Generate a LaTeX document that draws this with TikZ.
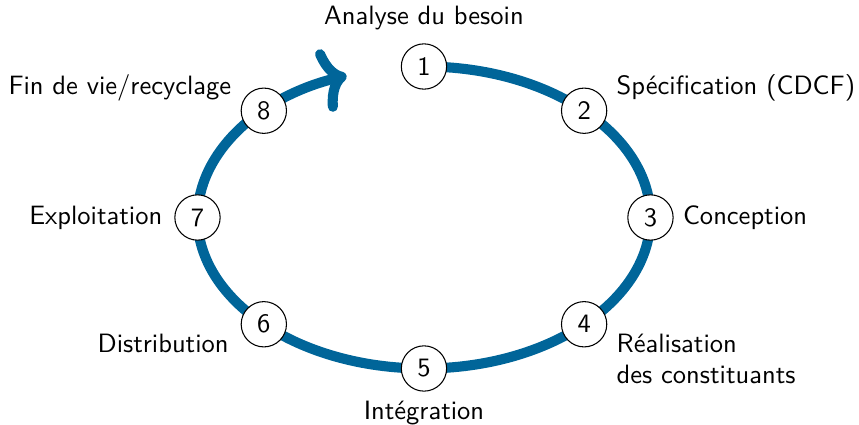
\documentclass[tikz,border=0pt]{standalone}
\usepackage{fontspec}
\usetikzlibrary{arrows.meta,positioning,backgrounds}
\definecolor{cyclebleu}{RGB}{0,101,153}

\begin{document}
\begin{tikzpicture}[
		font=\sffamily,
		stage/.style={draw, circle, fill=white, minimum size=6mm, inner sep=0pt},
		cyclearrow/.style={draw=cyclebleu, line width=3.8pt, -{To[length=3.4mm, width=8.5mm]}},
	]
	\useasboundingbox (-5.616,-2.748) rectangle (5.762,2.881);

	\foreach \i/\a in {1/90,2/45,3/0,4/-45,5/-90,6/-135,7/180,8/135}
		\node (n\i) at (\a:3cm and 2cm) [stage] {\i};

	\begin{scope}[on background layer]
		\draw[cyclearrow] (n1.center) arc[start angle=90, end angle=-250, x radius=3cm, y radius=2cm];
	\end{scope}

	\node (l1) [above=0.5mm of n1] {Analyse du besoin};
	\node (l2) at (n2.east) [anchor=south west] {Spécification (CDCF)};
	\node (l3) [right=0pt of n3] {Conception};
	\node (l4) at (n4.east) [anchor=north west, align=left] {Réalisation\\des constituants};
	\node (l5) [below=0pt of n5] {Intégration};
	\node (l6) at ([xshift=-1pt]n6.west) [anchor=north east] {Distribution};
	\node (l7) [left=1pt of n7] {Exploitation};
	\node (l8) at (n8.west) [anchor=south east] {Fin de vie/recyclage};
\end{tikzpicture}
\end{document}
